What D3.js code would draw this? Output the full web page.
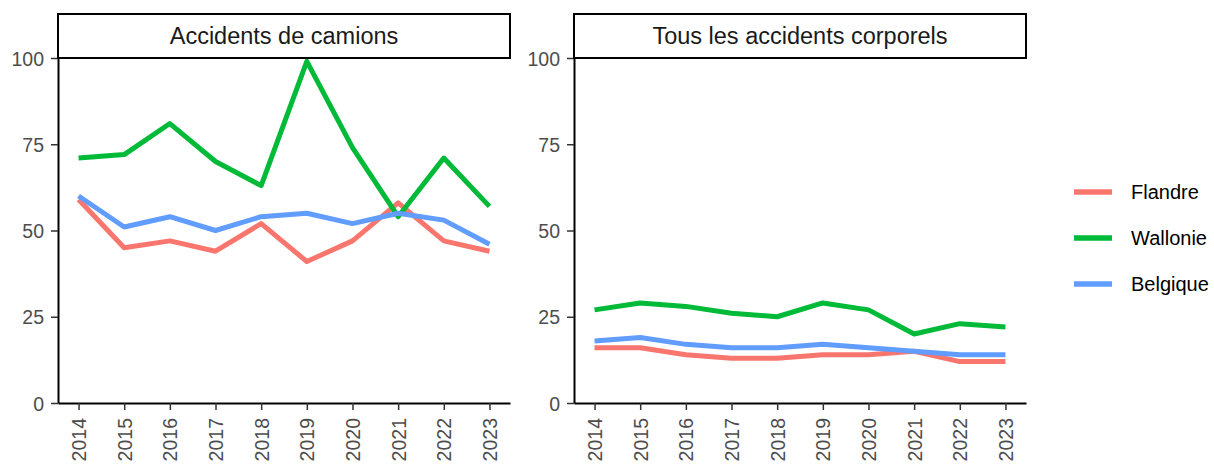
<!DOCTYPE html>
<html lang="fr">
<head>
  <meta charset="UTF-8" />
  <title>Accidents de camions / Tous les accidents corporels</title>
  <script src="https://d3js.org/d3.v7.min.js"></script>
  <style>
    body { margin: 0; background: #fff; }
    svg { display: block; font-family: "Liberation Sans", Arial, sans-serif; }
    .axis text { fill: #4d4d4d; font-size: 19.5px; }
    .axis .tick line { stroke: #333; stroke-width: 1.5px; }
    .axis path.domain { stroke: #000; stroke-width: 2px; }
    .strip rect { fill: #fff; stroke: #000; stroke-width: 2px; }
    .strip text { font-size: 23.5px; fill: #1a1a1a; }
    .legend text { font-size: 20px; fill: #000; }
  </style>
</head>
<body>
  <svg width="1214" height="466"></svg>
  <script>
    // data
    const years = [2014, 2015, 2016, 2017, 2018, 2019, 2020, 2021, 2022, 2023];
    const regions = ["Flandre", "Wallonie", "Belgique"];
    const colors = ["#F8766D", "#00BA38", "#619CFF"];
    const panelTitles = ["Accidents de camions", "Tous les accidents corporels"];
    const yTicks = [0, 25, 50, 75, 100];

    const camionsFlandre  = [59, 45, 47, 44, 52, 41, 47, 58, 47, 44];
    const camionsWallonie = [71, 72, 81, 70, 63, 99, 74, 54, 71, 57];
    const camionsBelgique = [60, 51, 54, 50, 54, 55, 52, 55, 53, 46];

    const corporelsFlandre  = [16, 16, 14, 13, 13, 14, 14, 15, 12, 12];
    const corporelsWallonie = [27, 29, 28, 26, 25, 29, 27, 20, 23, 22];
    const corporelsBelgique = [18, 19, 17, 16, 16, 17, 16, 15, 14, 14];

    const panels = [
      [camionsFlandre, camionsWallonie, camionsBelgique],
      [corporelsFlandre, corporelsWallonie, corporelsBelgique]
    ];

    const svg = d3.select("svg");
    const panelLeft = [58, 574], panelW = 452;
    const panelTop = 58, panelBottom = 403, stripTop = 14;

    const y = d3.scaleLinear().domain([0, 100]).range([panelBottom, panelTop]);

    panels.forEach((series, p) => {
      const x0 = panelLeft[p];
      const x = d3.scaleLinear()
        .domain([2014 - 0.45, 2023 + 0.45])
        .range([x0, x0 + panelW]);

      const g = svg.append("g");

      // lines
      const line = d3.line().x((d, i) => x(years[i])).y(d => y(d));
      series.forEach((vals, s) => {
        g.append("path")
          .datum(vals)
          .attr("d", line)
          .attr("fill", "none")
          .attr("stroke", colors[s])
          .attr("stroke-width", 5)
          .attr("stroke-linejoin", "round")
          .attr("stroke-linecap", "butt");
      });

      // y axis
      const ya = g.append("g")
        .attr("class", "axis")
        .attr("transform", `translate(${x0},0)`)
        .call(d3.axisLeft(y).tickValues(yTicks).tickSize(7).tickPadding(7).tickSizeOuter(0));
      ya.selectAll("text").attr("dy", "0.36em");

      // x axis
      const xa = g.append("g")
        .attr("class", "axis")
        .attr("transform", `translate(0,${panelBottom})`)
        .call(d3.axisBottom(x).tickValues(years).tickFormat(d3.format("d"))
          .tickSize(7).tickSizeOuter(0));
      xa.selectAll("text")
        .attr("transform", "rotate(-90)")
        .attr("x", -15)
        .attr("y", 0)
        .attr("dy", "0.36em")
        .style("text-anchor", "end");

      // facet strip
      const strip = g.append("g").attr("class", "strip");
      strip.append("rect")
        .attr("x", x0).attr("y", stripTop)
        .attr("width", panelW).attr("height", panelTop - stripTop);
      strip.append("text")
        .attr("x", x0 + panelW / 2)
        .attr("y", (stripTop + panelTop) / 2)
        .attr("dy", "0.36em")
        .attr("text-anchor", "middle")
        .text(panelTitles[p]);
    });

    // legend
    const legend = svg.append("g").attr("class", "legend");
    regions.forEach((r, i) => {
      const ly = 192 + i * 46;
      legend.append("line")
        .attr("x1", 1074).attr("x2", 1112)
        .attr("y1", ly).attr("y2", ly)
        .attr("stroke", colors[i]).attr("stroke-width", 5.5);
      legend.append("text")
        .attr("x", 1131).attr("y", ly)
        .attr("dy", "0.36em")
        .text(r);
    });
  </script>
</body>
</html>
